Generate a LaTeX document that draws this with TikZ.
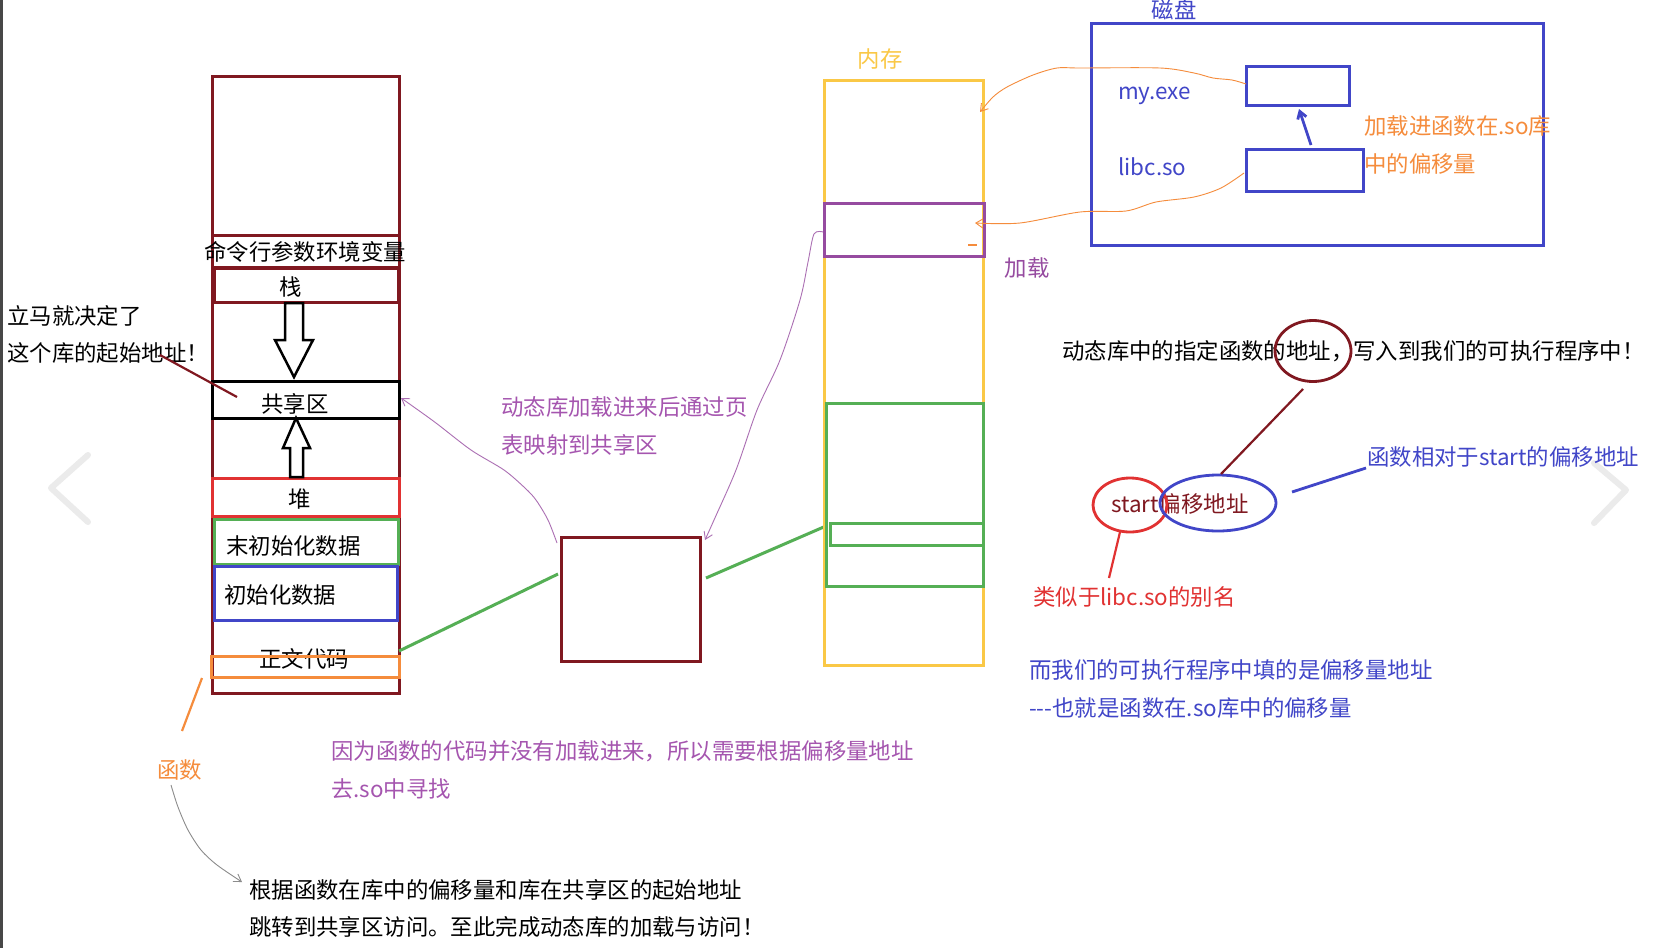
\documentclass[tikz,border=0pt]{standalone}
\usepackage{fontspec}
\setmainfont{Noto Sans CJK SC}
\usetikzlibrary{arrows.meta,fit,shapes.geometric}
\definecolor{dred}{RGB}{128,24,32}
\definecolor{myyellow}{RGB}{250,200,70}
\definecolor{mypurple}{RGB}{150,75,160}
\definecolor{txtpurple}{RGB}{165,85,175}
\definecolor{myblue}{RGB}{65,70,200}
\definecolor{mygreen}{RGB}{85,175,85}
\definecolor{myred}{RGB}{225,50,50}
\definecolor{myorange}{RGB}{245,140,60}
\begin{document}
\begin{tikzpicture}[x=1pt,y=-1pt,
  every node/.style={inner sep=0pt,font=\fontsize{22.4}{26}\selectfont},
  txt/.style={text height=19.2pt,text depth=3.0pt},
  box/.style={fit={#1},inner sep=0pt,line width=3pt},
  thin line/.style={line width=0.9pt},
  barb/.style={-{Straight Barb[length=7pt,width=9pt]}},
  chev/.style={draw=black!8,line width=6pt,line cap=round,line join=round}
]
\useasboundingbox (0,0) rectangle (1677,948);
\fill[white] (0,0) rectangle (1677,948);
\fill[black!72] (0,0) rectangle (3,948);
% navigation chevrons
\draw[chev] (88,455) -- (51,488) -- (88,522);
\draw[chev] (1594,463) -- (1626,490) -- (1594,523);

% ===== left: process address space =====
\node[box={(212,76) (399,693)},draw=dred] (stack) {};
\node[box={(212,235) (399,267)},draw=dred] (argenv) {};
\node[box={(214,268) (398,302)},draw=dred] (stk) {};
\node[box={(212,381) (399,418)},draw=black] (shared) {};
\node[box={(212,478) (399,516)},draw=myred] (heap) {};
\node[box={(214,519) (398,564)},draw=mygreen] (bss) {};
\node[box={(214,566) (397,620)},draw=myblue] (data) {};
\node[txt] at (305,252) (argenvT) {命令行参数环境变量};
\node[txt] at (291,287) (stkT) {栈};
\node[txt] at (295,404) (sharedT) {共享区};
\node[txt] at (300,499) (heapT) {堆};
\node[txt,anchor=west] at (226,546) (bssT) {末初始化数据};
\node[txt,anchor=west] at (224,595) (dataT) {初始化数据};
\node[txt] at (304,659) (textT) {正文代码};
\node[box={(211,656) (399,677)},draw=myorange] (func) {};
% hollow arrows
\draw[line width=2.5pt,fill=white,line join=miter] (285,303) -- (303,303) -- (303,340) -- (313,340) -- (294,377) -- (275,340) -- (285,340) -- cycle;
\draw[line width=2.5pt,fill=white,line join=miter] (296,418) -- (310,448) -- (303,448) -- (303,477) -- (290,477) -- (290,448) -- (283,448) -- cycle;

% left notes
\node[txt,anchor=west] at (7,316) (n1a) {立马就决定了};
\node[txt,anchor=west] at (7,353) (n1b) {这个库的起始地址！};
\coordinate (n1end) at (237,397);
\draw[dred,line width=2.2pt] (160,355) -- (n1end);

% function label
\coordinate (funcpt) at (202,678);
\node[txt,anchor=west,text=myorange] at (157,770) (funcT) {函数};
\draw[myorange,line width=2.2pt] (funcpt) -- (182,731);
\draw[black!45,thin line,barb] plot[smooth] coordinates {(171,785) (178,807) (188,830) (201,850) (217,865) (242,882)};

% ===== middle small box (library) =====
\node[box={(561,537) (700,661)},draw=dred] (lib) {};
\coordinate (stackR) at (399,651);
\draw[mygreen,line width=3pt] (stackR) -- (558,574);
\draw[mygreen,line width=3pt] (706,578) -- (826,526);

\node[txt,anchor=west,text=txtpurple] at (501,407) (mapT1) {动态库加载进来后通过页};
\node[txt,anchor=west,text=txtpurple] at (501,445) (mapT2) {表映射到共享区};
\draw[mypurple!80,thin line,barb] plot[smooth] coordinates {(557,543) (548,520) (536,500) (525,488) (504,470) (471,450) (436,423) (411,405) (401,398)};
\draw[mypurple!80,thin line,barb] plot[smooth] coordinates {(823,232) (814,234) (808,262) (800,300) (780,360) (757,410) (736,470) (714,520) (705,540)};

\node[txt,anchor=west,text=txtpurple] at (331,751) (whyT1) {因为函数的代码并没有加载进来，所以需要根据偏移量地址};
\node[txt,anchor=west,text=txtpurple] at (331,789) (whyT2) {去.so中寻找};

\node[txt,anchor=west] at (249,890) (jumpT1) {根据函数在库中的偏移量和库在共享区的起始地址};
\node[txt,anchor=west] at (249,927) (jumpT2) {跳转到共享区访问。至此完成动态库的加载与访问！};

% ===== memory =====
\node[box={(824,80) (983,665)},draw=myyellow] (mem) {};
\node[txt,text=myyellow] at (880,59) (memT) {内存};
\node[box={(824,203) (984,256)},draw=mypurple] (memso) {};
\node[box={(826,403) (983,586)},draw=mygreen] (memg) {};
\node[box={(830,523) (983,545)},draw=mygreen] (memgi) {};
\node[txt,text=mypurple] at (1027,268) (loadT) {加载};

% ===== disk =====
\node[box={(1091,23) (1543,245)},draw=myblue] (disk) {};
\node[txt,text=myblue] at (1174,10) (diskT) {磁盘};
\node[txt,anchor=west,text=myblue] at (1118,91) (exeT) {my.exe};
\node[txt,anchor=west,text=myblue] at (1118,167) (soT) {libc.so};
\node[box={(1246,66) (1349,105)},draw=myblue] (exebox) {};
\node[box={(1246,149) (1363,191)},draw=myblue] (sobox) {};
\coordinate (arrS) at (1311,145);
\coordinate (arrE) at (1299,109);
\draw[myblue,line width=2.8pt,barb] (arrS) -- (arrE);
\node[txt,anchor=west,text=myorange] at (1364,126) (offT1) {加载进函数在.so库};
\node[txt,anchor=west,text=myorange] at (1364,164) (offT2) {中的偏移量};

\draw[myorange,thin line,barb] plot[smooth] coordinates {(1246,84) (1232,80) (1213,78) (1194,73) (1160,68) (1080,68) (1057,68) (1033,75) (1007,87) (993,97) (980,112)};
\draw[myorange,thin line,barb] plot[smooth] coordinates {(1244,173) (1221,188) (1194,197) (1156,202) (1126,211) (1080,212) (1020,223) (975,223)};
\draw[myorange,line width=1.5pt] (968,245) -- (977,245);

% ===== right notes =====
\node[txt,anchor=west] at (1062,351) (writeT) {动态库中的指定函数的地址，写入到我们的可执行程序中！};
\node[draw=dred,line width=2.8pt,ellipse,minimum width=76pt,minimum height=61pt] at (1313,351) (addrC) {};
\node[txt,anchor=west,text=dred] at (1111,504) (startT) {start偏移地址};
\node[draw=myred,line width=2.8pt,ellipse,minimum width=74pt,minimum height=54pt] at (1130,505) (startC) {};
\node[draw=myblue,line width=2.8pt,ellipse,minimum width=116pt,minimum height=56pt] at (1218,503) (offC) {};
\draw[dred,line width=2.2pt] (1303,389) -- (1221,474);
\node[txt,anchor=west,text=myblue] at (1367,457) (relT) {函数相对于start的偏移地址};
\draw[myblue,line width=2.8pt] (1292,492) -- (1366,468);
\node[txt,anchor=west,text=myred] at (1033,597) (aliasT) {类似于libc.so的别名};
\draw[myred,line width=2.2pt] (1120,532) -- (1109,578);
\node[txt,anchor=west,text=myblue] at (1029,670) (fillT1) {而我们的可执行程序中填的是偏移量地址};
\node[txt,anchor=west,text=myblue] at (1029,708) (fillT2) {-{}-{}-也就是函数在.so库中的偏移量};
\end{tikzpicture}
\end{document}
